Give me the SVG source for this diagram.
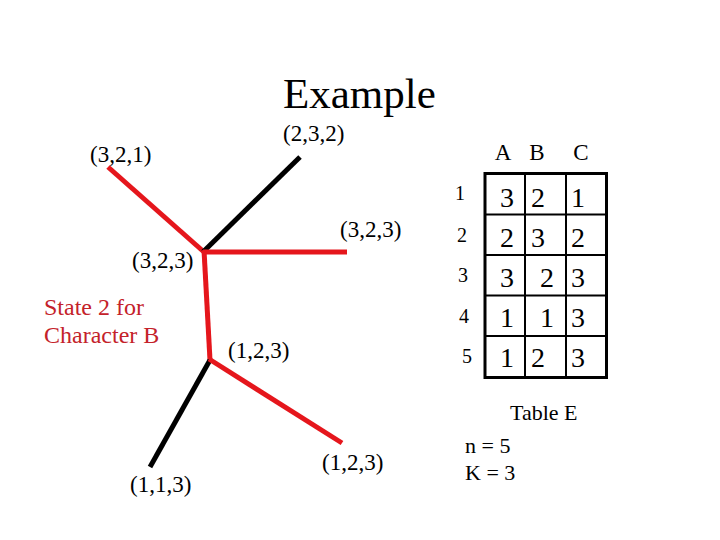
<svg xmlns="http://www.w3.org/2000/svg" width="720" height="540" viewBox="0 0 720 540">
<style>
text{font-family:"Liberation Serif","Times New Roman",serif;fill:#000}
.lbl{font-size:23px}
.red{stroke:#e5161c;stroke-width:5;fill:none;stroke-linecap:butt}
.blk{stroke:#000;stroke-width:5;fill:none}
.note{font-size:24px;fill:#c4222a}
.rl{font-size:20px;text-anchor:middle}
.hd{font-size:23px;text-anchor:middle}
.num{font-size:28px;text-anchor:middle}
.grid{stroke:#000;stroke-width:2;fill:none}
</style>
<rect width="720" height="540" fill="#fff"/>
<text x="283" y="108" font-size="43">Example</text>
<g id="connectors">
<line class="red" x1="108" y1="167" x2="204" y2="252"/>
<line class="blk" x1="300" y1="157" x2="203" y2="252"/>
<line class="red" x1="203" y1="252" x2="347" y2="252"/>
<line class="red" x1="204" y1="250" x2="210" y2="360"/>
<line class="blk" x1="210" y1="360" x2="150" y2="467"/>
<line class="red" x1="209" y1="359" x2="342" y2="443"/>
</g>
<g id="n321"><text class="lbl" x="90" y="162">(3,2,1)</text></g>
<g id="n232"><text class="lbl" x="283" y="141">(2,3,2)</text></g>
<g id="n323r"><text class="lbl" x="340" y="237">(3,2,3)</text></g>
<g id="n323l"><text class="lbl" x="132" y="268">(3,2,3)</text></g>
<g id="n123m"><text class="lbl" x="228" y="358">(1,2,3)</text></g>
<g id="n123b"><text class="lbl" x="322" y="470">(1,2,3)</text></g>
<g id="n113"><text class="lbl" x="130" y="492">(1,1,3)</text></g>
<g id="note">
<text class="note" x="44" y="315">State 2 for</text>
<text class="note" x="44" y="343">Character B</text>
</g>
<g id="table">
<text class="hd" x="503" y="160">A</text>
<text class="hd" x="537" y="160">B</text>
<text class="hd" x="581" y="160">C</text>
<text class="rl" x="460" y="200">1</text>
<text class="rl" x="462" y="242">2</text>
<text class="rl" x="463" y="282">3</text>
<text class="rl" x="464" y="323">4</text>
<text class="rl" x="467" y="363">5</text>
<rect x="485" y="173.5" width="121.5" height="204" fill="none" stroke="#000" stroke-width="3"/>
<line class="grid" x1="525" y1="173.5" x2="525" y2="377.5"/>
<line class="grid" x1="566" y1="173.5" x2="566" y2="377.5"/>
<line class="grid" x1="485" y1="214.5" x2="606.5" y2="214.5"/>
<line class="grid" x1="485" y1="255" x2="606.5" y2="255"/>
<line class="grid" x1="485" y1="295.5" x2="606.5" y2="295.5"/>
<line class="grid" x1="485" y1="336" x2="606.5" y2="336"/>
<text class="num" x="507" y="207">3</text><text class="num" x="538" y="207">2</text><text class="num" x="578" y="207">1</text>
<text class="num" x="507" y="247">2</text><text class="num" x="538" y="247">3</text><text class="num" x="578" y="247">2</text>
<text class="num" x="507" y="287">3</text><text class="num" x="547" y="287">2</text><text class="num" x="578" y="287">3</text>
<text class="num" x="507" y="327">1</text><text class="num" x="547" y="327">1</text><text class="num" x="578" y="327">3</text>
<text class="num" x="507" y="367">1</text><text class="num" x="538" y="367">2</text><text class="num" x="578" y="367">3</text>
<text x="510" y="420" font-size="22">Table E</text>
<text x="465" y="453" font-size="22">n = 5</text>
<text x="465" y="480" font-size="22">K = 3</text>
</g>
</svg>
